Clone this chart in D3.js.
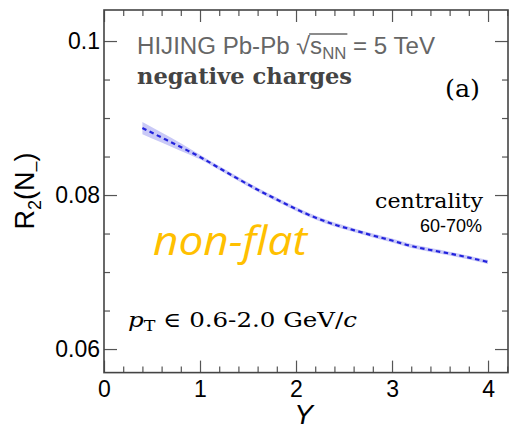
<!DOCTYPE html>
<html lang="en">
<head>
  <meta charset="UTF-8">
  <title>R2 vs Y</title>
  <script src="https://cdn.jsdelivr.net/npm/d3@7"></script>
  <style>
    body { margin: 0; background: #fff; }
  </style>
</head>
<body>
  <div id="canvas"></div>
  <script>
    // values
    const rapidity = [0.4, 0.6, 0.8, 1.0, 1.2, 1.4, 1.6, 1.8, 2.0, 2.2, 2.4, 2.6, 2.8, 3.0, 3.2, 3.4, 3.6, 3.8, 4.0];
    const r2 = [0.0887, 0.08747, 0.08623, 0.08494, 0.08351, 0.08208, 0.08069, 0.07942, 0.07818, 0.07708, 0.07617,
                0.07545, 0.07474, 0.07409, 0.07338, 0.07286, 0.0724, 0.07188, 0.0713];
    const r2err = [0.0008, 0.00065, 0.0005, 0.0003, 0.00026, 0.00025, 0.00025, 0.00025, 0.00025, 0.00025, 0.00025,
                   0.00025, 0.00025, 0.00025, 0.00025, 0.00025, 0.00025, 0.00025, 0.00025];
    const xTicks = [0, 1, 2, 3, 4];
    const yTicks = [0.06, 0.08, 0.1];
    const yTickLabels = ['0.06', '0.08', '0.1'];

    const width = 511;
    const height = 430;
    const padL = 104, padR = 508, padT = 10, padB = 372.6;

    const svg = d3.select('#canvas')
      .append('svg')
      .attr('width', width)
      .attr('height', height);

    const scaleX = d3.scaleLinear().domain([0, 4.208]).range([padL, padR]);
    const scaleY = d3.scaleLinear().domain([0.05694, 0.10403]).range([padB, padT]);

    const pts = rapidity.map((d, i) => ({ x: d, y: r2[i], e: r2err[i] }));

    // error band
    const area = d3.area()
      .x(d => scaleX(d.x))
      .y0(d => scaleY(d.y - d.e))
      .y1(d => scaleY(d.y + d.e))
      .curve(d3.curveMonotoneX);
    svg.append('path')
      .datum(pts)
      .attr('d', area)
      .attr('fill', '#c9c9f7');

    const line = d3.line()
      .x(d => scaleX(d.x))
      .y(d => scaleY(d.y))
      .curve(d3.curveMonotoneX);
    svg.append('path')
      .datum(pts)
      .attr('d', line)
      .attr('fill', 'none')
      .attr('stroke', '#2222dd')
      .attr('stroke-width', 2.2)
      .attr('stroke-dasharray', '4.5,3.5');

    // axes, ticks pointing inwards
    const minorX = d3.range(0, 4.21, 0.2).filter(v => Math.abs(v - Math.round(v)) > 0.01);
    const minorY = d3.range(0.06, 0.1041, 0.005).filter(v => Math.abs(v * 50 - Math.round(v * 50)) > 0.01);
    const fontSans = "'Liberation Sans', Arial, sans-serif";
    const serif = "'DejaVu Serif', serif";

    svg.append('g')
      .attr('id', 'x-axis')
      .attr('transform', 'translate(0,' + padB + ')')
      .call(d3.axisBottom(scaleX).tickValues(xTicks).tickSize(-12).tickSizeOuter(0).tickFormat(d3.format('d')))
      .style('font-family', fontSans)
      .style('font-size', '23px');
    svg.append('g')
      .attr('transform', 'translate(0,' + padB + ')')
      .call(d3.axisBottom(scaleX).tickValues(minorX).tickSize(-6).tickSizeOuter(0).tickFormat(''));
    svg.append('g')
      .attr('transform', 'translate(0,' + padT + ')')
      .call(d3.axisTop(scaleX).tickValues(xTicks).tickSize(-12).tickSizeOuter(0).tickFormat(''));
    svg.append('g')
      .attr('transform', 'translate(0,' + padT + ')')
      .call(d3.axisTop(scaleX).tickValues(minorX).tickSize(-6).tickSizeOuter(0).tickFormat(''));

    svg.append('g')
      .attr('id', 'y-axis')
      .attr('transform', 'translate(' + padL + ',0)')
      .call(d3.axisLeft(scaleY).tickValues(yTicks).tickSize(-13).tickSizeOuter(0).tickPadding(4)
        .tickFormat((d, i) => yTickLabels[i]))
      .style('font-family', fontSans)
      .style('font-size', '23px');
    svg.append('g')
      .attr('transform', 'translate(' + padL + ',0)')
      .call(d3.axisLeft(scaleY).tickValues(minorY).tickSize(-6).tickSizeOuter(0).tickFormat(''));
    svg.append('g')
      .attr('transform', 'translate(' + padR + ',0)')
      .call(d3.axisRight(scaleY).tickValues(yTicks).tickSize(-13).tickSizeOuter(0).tickFormat(''));
    svg.append('g')
      .attr('transform', 'translate(' + padR + ',0)')
      .call(d3.axisRight(scaleY).tickValues(minorY).tickSize(-6).tickSizeOuter(0).tickFormat(''));

    svg.selectAll('.domain').remove();
    svg.selectAll('.tick line').attr('stroke', '#555').attr('stroke-width', 1.2);
    svg.selectAll('.tick text').attr('fill', '#000');
    svg.selectAll('#x-axis .tick text').attr('dy', 0).attr('y', 24);

    svg.append('rect')
      .attr('x', padL).attr('y', padT)
      .attr('width', padR - padL).attr('height', padB - padT)
      .attr('fill', 'none')
      .attr('stroke', '#444')
      .attr('stroke-width', 1.6);

    // axis titles
    svg.append('text')
      .attr('transform', 'translate(' + scaleX(2.08) + ',424)')
      .attr('text-anchor', 'middle')
      .style('font-family', fontSans)
      .style('font-size', '28px')
      .style('font-style', 'italic')
      .text('Y');

    const yLab = svg.append('text')
      .attr('transform', 'translate(34,191) rotate(-90)')
      .attr('text-anchor', 'middle')
      .style('font-family', fontSans)
      .style('font-size', '27px');
    yLab.append('tspan').text('R');
    yLab.append('tspan').attr('dy', 7).style('font-size', '18px').text('2');
    yLab.append('tspan').attr('dy', -7).text('(N');
    yLab.append('tspan').attr('dy', 7).style('font-size', '18px').text('\u2013');
    yLab.append('tspan').attr('dy', -7).text(')');

    // annotations
    const hij = svg.append('text')
      .attr('x', 137).attr('y', 54)
      .attr('fill', '#666')
      .attr('textLength', 298)
      .attr('lengthAdjust', 'spacingAndGlyphs')
      .style('font-family', fontSans)
      .style('font-size', '23px');
    hij.append('tspan').text('HIJING Pb-Pb ');
    hij.append('tspan').style('font-size', '24px').text('\u221A');
    hij.append('tspan').text('s');
    hij.append('tspan').attr('dy', 5).style('font-size', '16px').text('NN');
    hij.append('tspan').attr('dy', -5).text(' = 5 TeV');
    // overline of the square root
    const startS = hij.node().getStartPositionOfChar(14);
    const endNN = hij.node().getEndPositionOfChar(16);
    svg.append('line')
      .attr('x1', startS.x - 1).attr('x2', endNN.x + 1)
      .attr('y1', 34).attr('y2', 34)
      .attr('stroke', '#666').attr('stroke-width', 1.3);

    svg.append('text')
      .attr('x', 137).attr('y', 84)
      .attr('fill', '#444')
      .attr('textLength', 215)
      .attr('lengthAdjust', 'spacingAndGlyphs')
      .style('font-family', serif)
      .style('font-weight', 'bold')
      .style('font-size', '22px')
      .text('negative charges');

    svg.append('text')
      .attr('x', 445).attr('y', 97)
      .attr('textLength', 35)
      .attr('lengthAdjust', 'spacingAndGlyphs')
      .style('font-family', serif)
      .style('font-size', '24px')
      .text('(a)');

    svg.append('text')
      .attr('x', 375).attr('y', 208)
      .attr('textLength', 108)
      .attr('lengthAdjust', 'spacingAndGlyphs')
      .style('font-family', serif)
      .style('font-size', '21px')
      .text('centrality');

    svg.append('text')
      .attr('x', 482).attr('y', 232)
      .attr('text-anchor', 'end')
      .style('font-family', fontSans)
      .style('font-size', '18px')
      .text('60-70%');

    svg.append('text')
      .attr('x', 153).attr('y', 255)
      .attr('fill', '#ffc000')
      .attr('textLength', 154)
      .attr('lengthAdjust', 'spacingAndGlyphs')
      .style('font-family', "'Open Sans', sans-serif")
      .style('font-style', 'italic')
      .style('font-size', '41px')
      .text('non-flat');

    const pt = svg.append('text')
      .attr('x', 128).attr('y', 327)
      .attr('textLength', 229)
      .attr('lengthAdjust', 'spacingAndGlyphs')
      .style('font-family', serif)
      .style('font-size', '21px');
    pt.append('tspan').style('font-style', 'italic').text('p');
    pt.append('tspan').attr('dy', 4).style('font-size', '15px').text('T');
    pt.append('tspan').attr('dy', -4).text(' \u2208 0.6-2.0 GeV/');
    pt.append('tspan').style('font-style', 'italic').text('c');
  </script>
</body>
</html>
